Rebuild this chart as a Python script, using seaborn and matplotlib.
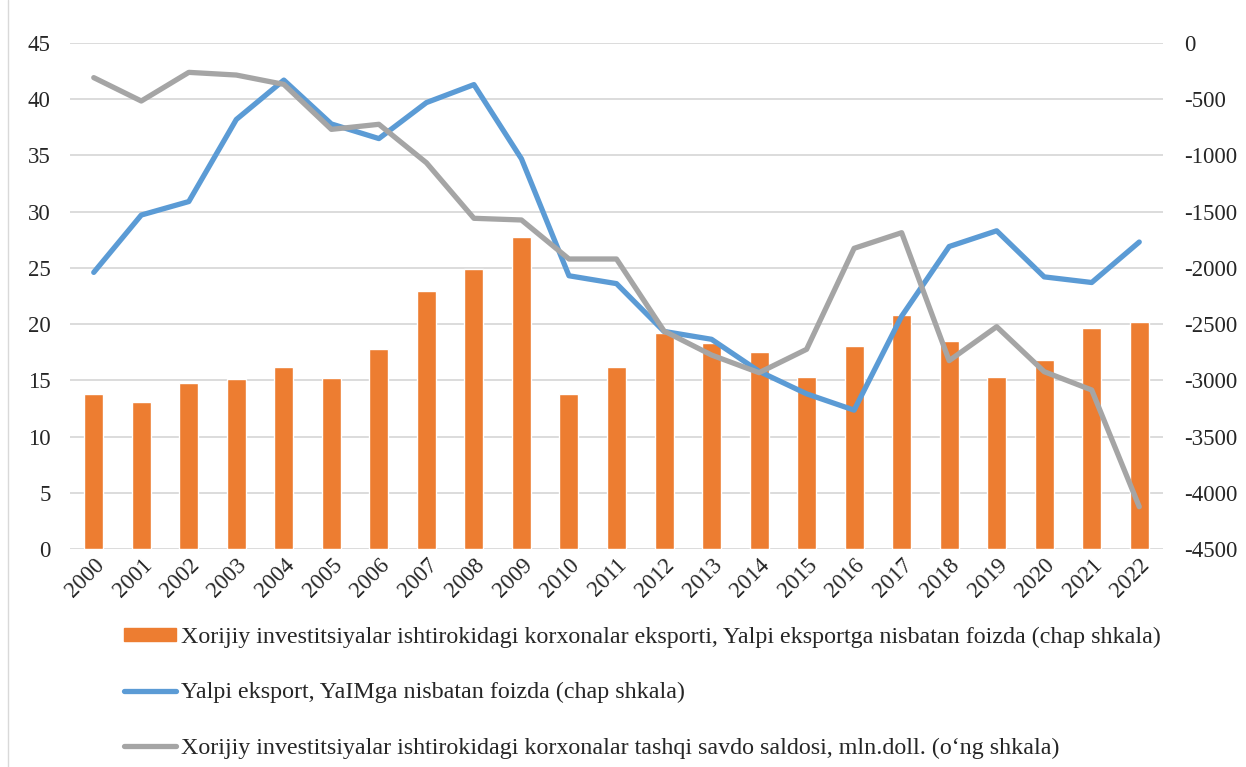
import matplotlib
matplotlib.use("Agg")
import matplotlib.pyplot as plt
from matplotlib.lines import Line2D
from matplotlib.patches import Rectangle
import seaborn as sns
import numpy as np
import pandas as pd

years = [str(y) for y in range(2000, 2023)]

# Xorijiy investitsiyalar ishtirokidagi korxonalar eksporti, % (left)
fdi_export_share = [13.8, 13.1, 14.8, 15.15, 16.2, 15.2, 17.75, 22.95, 24.9, 27.75,
                    13.8, 16.2, 19.25, 18.35, 17.5, 15.3, 18.05, 20.8, 18.5, 15.3,
                    16.85, 19.65, 20.15]

# Yalpi eksport, YaIMga nisbatan % (left)
export_to_gdp = [24.6, 29.7, 30.9, 38.2, 41.7, 37.8, 36.5, 39.7, 41.3, 34.7,
                 24.3, 23.6, 19.35, 18.65, 15.8, 13.8, 12.35, 20.7, 26.9, 28.3,
                 24.2, 23.7, 27.3]

# tashqi savdo saldosi, mln.doll. (right)
trade_balance = [-308, -516, -261, -285, -368, -768, -723, -1065, -1559, -1574,
                 -1921, -1921, -2561, -2775, -2932, -2724, -1826, -1687, -2825, -2523,
                 -2923, -3086, -4124]

labels = [
    "Xorijiy investitsiyalar ishtirokidagi korxonalar eksporti, Yalpi eksportga nisbatan foizda (chap shkala)",
    "Yalpi eksport, YaIMga nisbatan foizda (chap shkala)",
    "Xorijiy investitsiyalar ishtirokidagi korxonalar tashqi savdo saldosi, mln.doll. (o\u2018ng shkala)",
]

df = pd.DataFrame({"year": years, "share": fdi_export_share,
                   "gdp": export_to_gdp, "balance": trade_balance})
df["pos"] = np.arange(len(df))

sns.set_style("white")
plt.rcParams['font.family'] = ['Liberation Serif', 'DejaVu Serif']
plt.rcParams['axes.unicode_minus'] = False

orange = "#ED7D31"
blue = "#5B9BD5"
grey = "#A5A5A5"

fig = plt.figure(figsize=(12.46, 7.67), dpi=100)
ax = fig.add_axes([70 / 1246, 1 - 549 / 767, (1163 - 70) / 1246, (549 - 43) / 767])

sns.barplot(data=df, x="year", y="share", color=orange, width=0.4,
            saturation=1, ax=ax, zorder=2)
sns.lineplot(data=df, x="pos", y="gdp", color=blue, linewidth=3.8,
             ax=ax, zorder=4)

ax2 = ax.twinx()
sns.lineplot(data=df, x="pos", y="balance", color=grey, linewidth=3.8,
             ax=ax2, zorder=3)

ax.set_ylim(0, 45)
ax.set_yticks(range(0, 46, 5))
ax2.set_ylim(-4500, 0)
ax2.set_yticks(range(-4500, 1, 500))
ax.set_xlim(-0.5, len(years) - 0.5)

ax.yaxis.grid(True, color="#D9D9D9", linewidth=1.3)
ax.set_axisbelow(True)
for a in (ax, ax2):
    for s in a.spines.values():
        s.set_visible(False)
    a.set_xlabel("")
    a.set_ylabel("")

ax.tick_params(axis="y", length=0, labelsize=16.5, pad=14)
ax2.tick_params(axis="y", length=0, labelsize=16.5, pad=15)
ax.tick_params(axis="x", length=0, labelsize=16.5, pad=4)
ax.set_xticks(range(len(years)))
ax.set_xticklabels(years, rotation=45, ha="right", rotation_mode="anchor")

handles = [Rectangle((0, 0), 1, 1, color=orange),
           Line2D([], [], color=blue, linewidth=3.8),
           Line2D([], [], color=grey, linewidth=3.8)]
fig.legend(handles, labels, loc="upper left", bbox_to_anchor=(124 / 1246, 1 - 627 / 767),
           frameon=False, fontsize=17.3, labelspacing=1.42, handlelength=2.15,
           handleheight=0.42, handletextpad=0.22, borderaxespad=0, borderpad=0)

fig.add_artist(Line2D([8 / 1246, 8 / 1246], [0, 1], color="#D9D9D9", linewidth=1))

fig.savefig("out.png", dpi=100)
